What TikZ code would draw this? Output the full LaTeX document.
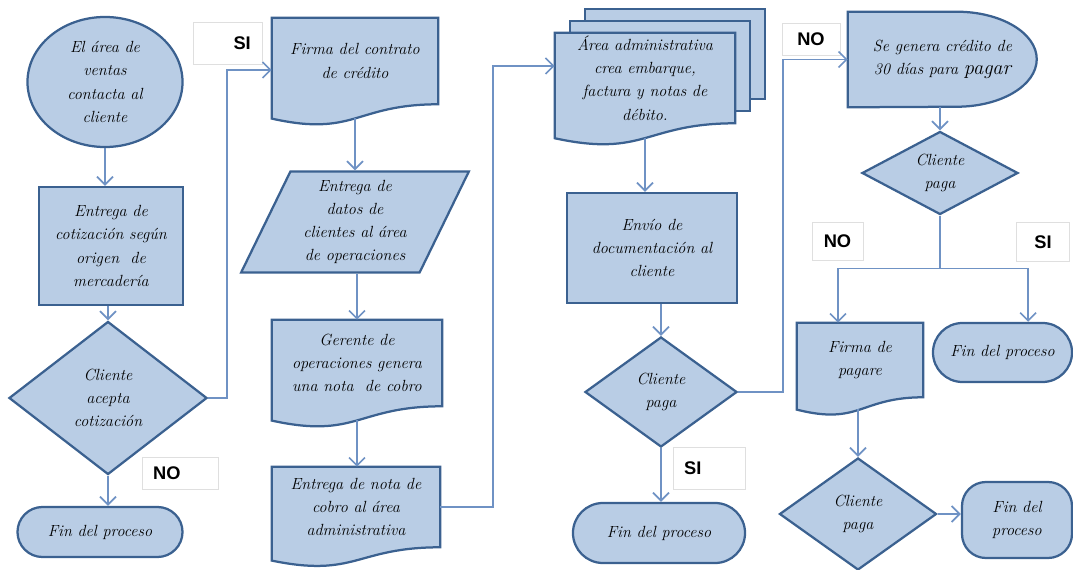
\documentclass[tikz,border=0pt]{standalone}
\usepackage{fontspec}
\setsansfont{Liberation Sans}
\usepackage{tikz}
\usetikzlibrary{shapes.geometric, shapes.misc, arrows.meta, positioning, calc, backgrounds}

\definecolor{boxfill}{HTML}{B9CDE5}
\definecolor{boxline}{HTML}{3B6190}
\definecolor{linkline}{HTML}{6F92C4}

\newcommand{\shapefont}{\fontsize{11.5}{16.5}\selectfont\itshape}
\newcommand{\tagfont}{\fontsize{13}{15}\selectfont\sffamily\bfseries}

\tikzset{
    entry/.style={ellipse, text centered, draw=boxline, fill=boxfill, line width=1.6pt, font=\shapefont, align=center, inner sep=0pt},
    startstop/.style={rounded rectangle, text centered, draw=boxline, fill=boxfill, line width=1.6pt, font=\shapefont, align=center, inner sep=0pt},
    process/.style={rectangle, text centered, draw=boxline, fill=boxfill, line width=1.6pt, font=\shapefont, align=center, inner sep=2pt},
    decision/.style={diamond, aspect=1.5, text centered, draw=boxline, fill=boxfill, line width=1.6pt, font=\shapefont, align=center, inner sep=0pt},
    io/.style={trapezium, trapezium left angle=65, trapezium right angle=115, trapezium stretches=true, text centered, draw=boxline, fill=boxfill, line width=1.6pt, font=\shapefont, align=center, inner sep=1pt},
    docpage/.style={rectangle, text centered, font=\shapefont, align=center, inner sep=1pt},
    docline/.style={draw=boxline, fill=boxfill, line width=1.6pt},
    labelbox/.style={rectangle, draw=gray!25, fill=white, font=\tagfont, inner xsep=0.28cm, inner ysep=0pt},
    arrow/.style={line width=1.2pt, draw=linkline, ->, >={Straight Barb[length=2mm,width=4mm]}},
    conn/.style={line width=1.2pt, draw=linkline}
}

% page with a wavy bottom edge, drawn behind a docpage node
\newcommand{\docshape}[1]{%
    \filldraw[docline] (#1.north west) -- (#1.north east) -- (#1.south east)
        .. controls (#1.south) and ($(#1.south)!-0.381!(#1.north)$) .. ($(#1.south west)!-0.165!(#1.north west)$) -- cycle;
    \coordinate (#1-w) at ($(#1.south)!-0.163!(#1.north)$);
}

\begin{document}
\begin{tikzpicture}[x=0.025cm, y=-0.025cm]
    \useasboundingbox (0,0) rectangle (1073,570);

    % first column
    \node (ventas) [entry, minimum width=3.875cm, minimum height=3.25cm] at (105,82) {El área de\\ventas\\contacta al\\cliente};
    \node (cotiza) [process, minimum width=3.6cm, minimum height=2.95cm] at (111,246) {Entrega de\\cotización según\\origen\ \ de\\mercadería};
    \node (acepta) [decision, minimum width=4.95cm, minimum height=3.825cm] at (108,398) {Cliente\\acepta\\cotización};
    \node (fin1) [startstop, minimum width=4.125cm, minimum height=1.25cm] at (100,532) {Fin del proceso};
    \node (si1) [labelbox, minimum height=1.05cm, text width=1.165cm, align=right] at (227.5,43) {SI};
    \node (no1) [labelbox, minimum height=0.8cm, text width=1.34cm, align=left] at (180,473) {NO};

    % second column
    \node (firma) [docpage, minimum width=4.15cm, minimum height=2.15cm] at (355,61) {Firma del contrato\\de crédito};
    \node (datos) [io, minimum width=5.7cm, minimum height=2.525cm] at (355,222) {Entrega de\\datos de\\clientes al área\\de operaciones};
    \node (gerente) [docpage, minimum width=4.25cm, minimum height=2.15cm] at (357,363) {Gerente de\\operaciones genera\\una nota\ \ de cobro};
    \node (nota) [docpage, minimum width=4.2cm, minimum height=2.0cm] at (356,507) {Entrega de nota de\\cobro al área\\administrativa};

    % third column
    \node (admin) [docpage, minimum width=4.5cm, minimum height=2.25cm] at (645,78) {Área administrativa\\crea embarque,\\factura y notas de\\débito.};
    \node (envio) [process, minimum width=4.25cm, minimum height=2.75cm] at (652,248) {Envío de\\documentación al\\cliente};
    \node (paga1) [decision, minimum width=3.8cm, minimum height=2.75cm] at (661,392) {Cliente\\paga};
    \node (fin3) [startstop, minimum width=4.3cm, minimum height=1.5cm] at (659,533) {Fin del proceso};
    \node (si2) [labelbox, minimum height=1.05cm, text width=1.24cm, align=left] at (709,468) {SI};
    \node (no2) [labelbox, minimum width=1.45cm, minimum height=0.8cm] at (811,39) {NO};

    % fourth column
    \node (credito) [docpage, minimum width=4.725cm, minimum height=2.375cm] at (942.5,59.5) {Se genera crédito de\\30 días para {\fontsize{14.5}{16.5}\selectfont pagar}};
    \node (paga2) [decision, minimum width=3.9cm, minimum height=2.075cm] at (940,173) {Cliente\\paga};
    \node (no3) [labelbox, minimum width=1.275cm, minimum height=0.95cm] at (837.5,241) {NO};
    \node (si3) [labelbox, minimum width=1.325cm, minimum height=0.975cm] at (1043,242) {SI};
    \node (pagare) [docpage, minimum width=3.15cm, minimum height=1.85cm] at (860,360) {Firma de\\pagare};
    \node (fin2) [startstop, minimum width=3.475cm, minimum height=1.475cm] at (1002.5,352.5) {Fin del proceso};
    \node (paga3) [decision, minimum width=3.925cm, minimum height=2.8cm] at (858,514) {Cliente\\paga};
    \node (fin4) [process, rounded corners=0.6cm, minimum width=2.75cm, minimum height=1.9cm] at (1017,520) {Fin del\\proceso};

    \begin{scope}[on background layer]
        \filldraw[docline] ([xshift=0.75cm,yshift=0.6cm]admin.north west) rectangle ([xshift=0.75cm,yshift=0.6cm]admin.south east);
        \filldraw[docline] ([xshift=0.375cm,yshift=0.3cm]admin.north west) rectangle ([xshift=0.375cm,yshift=0.3cm]admin.south east);
        \docshape{admin}
        \docshape{firma}
        \docshape{gerente}
        \docshape{nota}
        \docshape{pagare}
        \filldraw[docline] (credito.north west) -- ++(2.725cm,0) arc[start angle=90, end angle=-90, x radius=2cm, y radius=1.1875cm] -- (credito.south west) -- cycle;
    \end{scope}

    \draw [arrow] (ventas.south) -- (ventas.south |- cotiza.north);
    \draw [arrow] (cotiza.south -| acepta) -- (acepta.north);
    \draw [arrow] (acepta.south) -- (acepta.south |- fin1.north);
    \draw [arrow] (acepta.east) -- ++(19,0) |- ([yshift=-0.225cm]firma.west);

    \draw [arrow] (firma-w) -- (firma-w |- datos.north);
    \draw [arrow] (datos.south -| gerente) -- (gerente.north);
    \draw [arrow] (gerente-w) -- (gerente-w |- nota.north);
    \draw [arrow] (nota.east) -- ++(53,0) |- ([yshift=0.3cm]admin.west);

    \draw [arrow] (admin-w) -- (admin-w |- envio.north);
    \draw [arrow] (envio.south -| paga1) -- (paga1.north);
    \draw [arrow] (paga1.south) -- (paga1.south |- fin3.north);
    \draw [arrow] (paga1.east) -- ++(45,0) |- (credito.west);

    \draw [arrow] (credito.south -| paga2) -- (paga2.north);
    \draw [conn] (paga2.south) -- ++(0,53) coordinate (split);
    \draw [arrow] (split) -| ([xshift=-0.55cm]pagare.north);
    \draw [arrow] (split) -| ([xshift=0.64cm]fin2.north);
    \draw [arrow] (pagare-w -| paga3) -- (paga3.north);
    \draw [arrow] (paga3.east) -- (paga3.east -| fin4.west);
\end{tikzpicture}
\end{document}
